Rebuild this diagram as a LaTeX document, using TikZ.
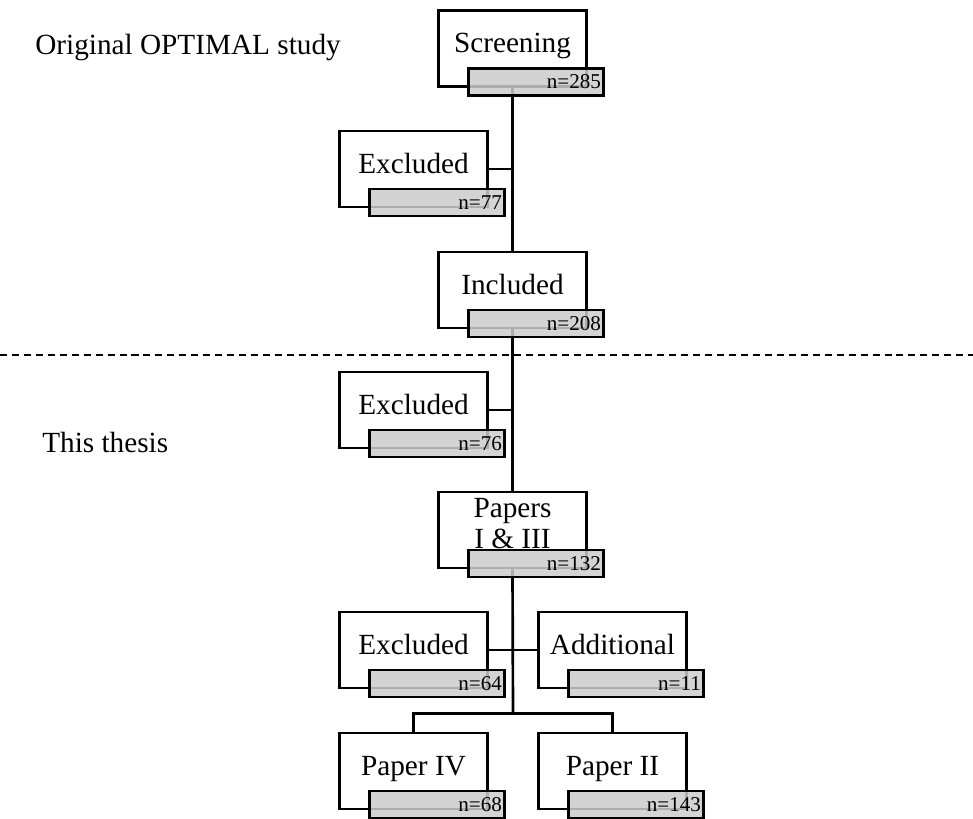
\documentclass[tikz,border=0pt]{standalone}
\usepackage{fontspec}
\setmainfont{Liberation Serif}
\usetikzlibrary{positioning, calc, backgrounds}

% white stage box, its title, and the grey count box below it
\newcommand{\flowbox}[6][4]{%
  \node[stage] (#2) at (#3,#4) {};
  \node[stagetext] (#2-label) at ($(#2.center)+(0,#1)$) {#5};
  \node[count] (#2-box) at ($(#2.center)+(23.5,33.5)$) {};
  \node[counttext] (#2-n) at (#2-box.east) {n=#6};
}

\begin{document}
\begin{tikzpicture}[x=0.025cm, y=-0.025cm,
    stage/.style={draw, fill=white, line width=1.9pt, minimum width=3.7cm, minimum height=1.9cm, inner sep=0pt},
    stagetext/.style={font=\fontsize{20.8}{22}\selectfont, align=center, anchor=base, inner sep=0pt},
    count/.style={draw, fill=black!20, fill opacity=0.85, line width=1.9pt, minimum width=3.375cm, minimum height=0.675cm, inner sep=0pt},
    counttext/.style={font=\fontsize{15}{16}\selectfont, anchor=east, inner sep=2.6pt},
    link/.style={line width=1.9pt},
    rule/.style={line width=0.8pt, dash pattern=on 5pt off 3.5pt}]
  \useasboundingbox (0,0) rectangle (973,818);

  \node[anchor=base west, font=\fontsize{20.8}{22}\selectfont, inner sep=0pt] (original) at (35,54) {Original OPTIMAL study};
  \node[anchor=base west, font=\fontsize{20.8}{22}\selectfont, inner sep=0pt] (thesis) at (42,452) {This thesis};
  \draw[rule] (0,355) -- (973,355);

  \flowbox{screening}{512.5}{48.5}{Screening}{285}
  \flowbox{excludedA}{413.5}{169}{Excluded}{77}
  \flowbox{included}{512.5}{290}{Included}{208}
  \flowbox{excludedB}{413.5}{410}{Excluded}{76}
  \flowbox[18]{papers}{512.5}{530}{Papers\\I \& III}{132}
  \flowbox{excludedC}{413.5}{650}{Excluded}{64}
  \flowbox{additional}{612.5}{650}{Additional}{11}
  \flowbox{paperiv}{413.5}{771}{Paper IV}{68}
  \flowbox{paperii}{612.5}{771}{Paper II}{143}

  \begin{scope}[on background layer]
    \draw[link] (screening.south) -- (included.north);
    \draw[link] (excludedA.east) -- (excludedA.east -| screening.south);
    \draw[link] (included.south) -- (papers.north);
    \draw[link] (excludedB.east) -- (excludedB.east -| included.south);
    \coordinate (fork) at ($(paperiv.north)!0.5!(paperii.north)+(0,-18)$);
    \draw[link] (papers.south) -- (fork);
    \draw[link] (excludedC.east) -- (additional.west);
    \draw[link] (paperiv.north) -- (paperiv.north |- fork) -- (paperii.north |- fork) -- (paperii.north);
  \end{scope}
\end{tikzpicture}
\end{document}
